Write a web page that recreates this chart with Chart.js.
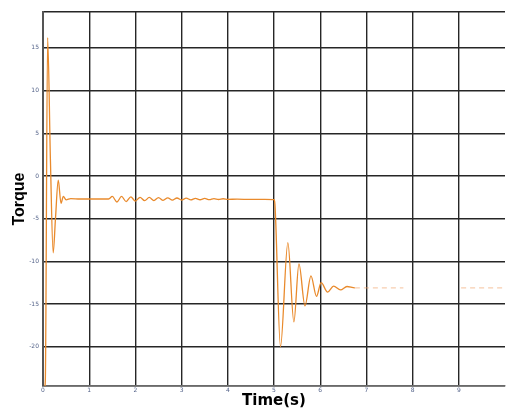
<!DOCTYPE html>
<html>
<head>
<meta charset="utf-8">
<script src="https://cdn.jsdelivr.net/npm/chart.js@4.4.0/dist/chart.umd.min.js"></script>
<style>
    html, body { margin: 0; padding: 0; background: #fff; }
</style>
</head>
<body>
<canvas id="myChart" width="506" height="410"></canvas>
<script>
/**
 * Data
 */

var times = [0, 0.05, 0.1, 0.16, 0.22, 0.27, 0.33, 0.39, 0.44, 0.5, 0.6, 0.8, 1.0, 1.2, 1.42,
    1.5, 1.6, 1.7, 1.8, 1.9, 2.0, 2.1, 2.2, 2.3, 2.4, 2.5, 2.6, 2.7, 2.8, 2.9, 3.0,
    3.1, 3.2, 3.3, 3.4, 3.5, 3.6, 3.7, 3.8, 3.9, 4.0, 4.2, 4.5, 4.8, 5.0,
    5.02, 5.14, 5.3, 5.43, 5.54, 5.67, 5.8, 5.92, 6.02, 6.16, 6.29, 6.44, 6.58, 6.75, 7.0, 7.4, 7.8,
    8.4, 9.05, 9.5, 10];

var torque = [-26, -24, 16.2, 2, -9, -5, -0.5, -3.2, -2.4, -2.8, -2.65, -2.7, -2.7, -2.7, -2.7,
    -2.4, -3.05, -2.4, -3.0, -2.45, -2.95, -2.5, -2.9, -2.52, -2.88, -2.54, -2.86, -2.56, -2.84, -2.58, -2.82,
    -2.6, -2.8, -2.62, -2.79, -2.63, -2.78, -2.65, -2.76, -2.67, -2.74, -2.72, -2.75, -2.75, -2.78,
    -3.3, -20, -7.8, -17.1, -10.3, -15.2, -11.7, -14.1, -12.5, -13.6, -12.9, -13.35, -12.95, -13.1, -13.1, -13.1, -13.1,
    null, -13.1, -13.1, -13.1];

var xTicks = [0, 1, 2, 3, 4, 5, 6, 7, 8, 9, 10];
var yTicks = [-20, -15, -10, -5, 0, 5, 10, 15];
var yMin = -24.6;
var yMax = 19.2;

/**
 * Render chart
 */

var points = [];
for (var i = 0; i < times.length; i++) {
    points.push({ x: times[i], y: torque[i] });
}

var gridColor = '#262626';
var tickFont = { family: 'DejaVu Sans', size: 6 };
var tickColor = '#55648a';

var ctx = document.getElementById('myChart').getContext('2d');
var chart = new Chart(ctx, {
    type: 'line',
    data: {
        datasets: [{
            data: points,
            borderColor: '#e98a2c',
            borderWidth: 1.3,
            pointRadius: 0,
            cubicInterpolationMode: 'monotone',
            spanGaps: false,
            segment: {
                borderColor: function(c) { return c.p0.parsed.x >= 6.7 ? 'rgba(240,165,110,0.55)' : undefined; },
                borderDash: function(c) { return c.p0.parsed.x >= 6.7 ? [5, 4] : undefined; }
            }
        }]
    },
    options: {
        responsive: false,
        animation: false,
        layout: { padding: { top: 12, left: 0, right: 0, bottom: 0 } },
        plugins: {
            legend: { display: false },
            tooltip: { enabled: false }
        },
        scales: {
            x: {
                type: 'linear',
                min: 0,
                max: 10,
                afterBuildTicks: function(scale) {
                    scale.ticks = xTicks.map(function(v) { return { value: v }; });
                },
                afterFit: function(scale) { scale.height = 24; },
                ticks: {
                    font: tickFont,
                    color: tickColor,
                    padding: 1,
                    maxRotation: 0,
                    callback: function(v) { return v < 10 ? v : ''; }
                },
                grid: {
                    color: function(c) { return c.tick && c.tick.value >= 10 ? 'rgba(0,0,0,0)' : gridColor; },
                    lineWidth: 1.4,
                    drawTicks: false
                },
                border: { color: '#6a6a6a', width: 1.6 },
                title: {
                    display: true,
                    text: 'Time(s)',
                    font: { family: 'DejaVu Sans', size: 15, weight: 'bold' },
                    color: '#000',
                    padding: { top: 0, bottom: 0 }
                }
            },
            y: {
                min: yMin,
                max: yMax,
                afterBuildTicks: function(scale) {
                    var list = [yMin].concat(yTicks, [yMax]);
                    scale.ticks = list.map(function(v) { return { value: v }; });
                },
                afterFit: function(scale) { scale.width = 43; },
                ticks: {
                    font: tickFont,
                    color: tickColor,
                    padding: 4,
                    callback: function(v) { return yTicks.indexOf(v) >= 0 ? v : ''; }
                },
                grid: { color: gridColor, lineWidth: 1.4, drawTicks: false },
                border: { color: '#555', width: 2 },
                title: {
                    display: true,
                    text: 'Torque',
                    font: { family: "'Liberation Sans Narrow', 'Liberation Sans'", size: 16, weight: 'bold' },
                    color: '#000',
                    padding: { top: 10, bottom: 0 }
                }
            }
        }
    }
});
</script>
</body>
</html>
